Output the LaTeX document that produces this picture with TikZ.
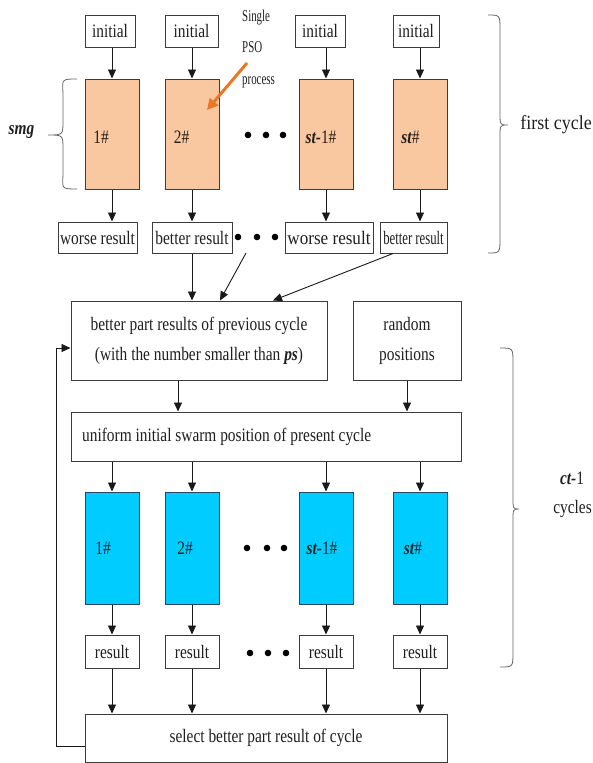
\documentclass[tikz,border=0pt]{standalone}
\usepackage{fontspec}
\setmainfont{Liberation Serif}[FakeStretch=0.81]
\newfontfamily\widefont{Liberation Serif}[FakeStretch=0.9]
\newfontfamily\slimfont{Liberation Serif}[FakeStretch=0.66]
\newfontfamily\tightfont{Liberation Serif}[FakeStretch=0.67]
\usetikzlibrary{arrows.meta}
\definecolor{linec}{RGB}{60,60,60}
\definecolor{peach}{RGB}{250,200,160}
\definecolor{sky}{RGB}{0,204,255}
\definecolor{skyline}{RGB}{40,70,95}
\definecolor{arrowor}{RGB}{236,118,40}
\definecolor{bracec}{RGB}{100,100,100}
\newcommand{\bi}[1]{\textbf{\textit{#1}}}
\begin{document}
\begin{tikzpicture}[x=1pt,y=-1pt,
  every node/.style={font=\fontsize{19}{30}\selectfont, text=black!88},
  box/.style={draw=linec, line width=1pt, fill=white, inner sep=0pt},
  orbox/.style={box, fill=peach, minimum width=54, minimum height=110},
  cybox/.style={box, draw=skyline, fill=sky, minimum width=54, minimum height=112},
  resbox/.style={box, minimum width=54, minimum height=33},
  flow/.style={draw=black!90, line width=0.9pt, -{Triangle[length=9pt,width=8pt]}},
  brace/.style={draw=bracec, line width=0.8pt},
  lbl/.style={inner sep=0pt}]
\useasboundingbox (0,0) rectangle (593,763);

% ---------- first cycle ----------
\node[box, minimum width=50, minimum height=32] (i1) at (110,31) {initial};
\node[box, minimum width=53, minimum height=32] (i2) at (191.5,31) {initial};
\node[box, minimum width=50, minimum height=32] (i3) at (320,31) {initial};
\node[box, minimum width=46, minimum height=32] (i4) at (416,31) {initial};

\node[orbox] (o1) at (112,134) {};
\node[orbox] (o2) at (192,134) {};
\node[orbox] (o3) at (326,134) {};
\node[orbox] (o4) at (420,134) {};
\node[lbl] (o1t) at (101,137) {1\#};
\node[lbl] (o2t) at (181.5,137) {2\#};
\node[lbl] (o3t) at (321,137) {\bi{st-}1\#};
\node[lbl] (o4t) at (410.5,137) {\bi{st}\#};

\node[box, minimum width=79, minimum height=31] (r1) at (97.5,237.5) {worse result};
\node[box, minimum width=80, minimum height=31] (r2) at (192,237.5) {better result};
\node[box, minimum width=88, minimum height=31] (r3) at (329,237.5) {\widefont worse result};
\node[box, minimum width=67, minimum height=31] (r4) at (413.5,237.5) {\tightfont better result};

\foreach \n in {1,2,3,4} {
  \draw[flow] (i\n.south -| o\n.north) -- (o\n.north);
  \draw[flow] (o\n.south) -- (o\n.south |- r\n.north);
}
\foreach \x in {248,266,283} \fill[black] (\x,135) circle (3.3pt);
\foreach \x in {238,257,275} \fill[black] (\x,237) circle (3.3pt);

% single PSO process note
\node[lbl, anchor=west, align=left, font=\slimfont\fontsize{16.5}{31.5}\selectfont] (spp) at (242,49) {Single\\PSO\\process};
\coordinate (pso) at (247,63);
\draw[line width=3pt, arrowor, -{Triangle[length=11pt,width=11pt]}] (pso) -- ([xshift=15pt,yshift=24pt]o2.center);

% side braces
\draw[brace] (77,79) .. controls (62,79) .. (63,93) -- (63,121) .. controls (63,135) .. (48,135) .. controls (63,135) .. (63,149) -- (63,175) .. controls (62,189) .. (77,189);
\node[lbl] (smg) at (21.5,132) {\bi{smg}};

\draw[brace] (488,15) .. controls (500,15) .. (500,30) -- (500,113) .. controls (500,125) .. (508,125) .. controls (500,125) .. (500,137) -- (500,238) .. controls (500,253) .. (488,253);
\node[lbl] (fc) at (556,125) {\widefont\fontsize{20}{24}\selectfont first cycle};

% ---------- later cycles ----------
\node[box, minimum width=256, minimum height=79, align=center] (bp) at (199,340.5)
  {better part results of previous cycle\\(with the number smaller than \bi{ps})};
\node[box, minimum width=108, minimum height=79, align=center] (rp) at (407,340.5) {random\\positions};

\coordinate (dj) at (246,253);
\coordinate (r4f) at ([xshift=-20.5pt]r4.south);
\draw[flow] (r2.south) -- (r2.south |- bp.north);
\draw[flow] (dj) -- ([xshift=21pt]bp.north);
\draw[flow] (r4f) -- ([xshift=74pt]bp.north);

\node[box, minimum width=390, minimum height=49] (un) at (266,436.5) {};
\node[lbl, anchor=west] (unt) at (82,437) {uniform initial swarm position of present cycle};
\draw[flow] ([xshift=-21pt]bp.south) -- ([xshift=-21pt]bp.south |- un.north);
\draw[flow] (rp.south) -- (rp.south |- un.north);

\node[cybox] (b1) at (112,548) {};
\node[cybox] (b2) at (192,548) {};
\node[cybox] (b3) at (326,548) {};
\node[cybox] (b4) at (420,548) {};
\node[lbl] (b1t) at (103,548) {1\#};
\node[lbl] (b2t) at (185,548) {2\#};
\node[lbl] (b3t) at (322,548) {\bi{st-}1\#};
\node[lbl] (b4t) at (413,548) {\bi{st}\#};

\node[resbox] (s1) at (112,651.5) {result};
\node[resbox] (s2) at (192,651.5) {result};
\node[resbox] (s3) at (326,651.5) {result};
\node[resbox] (s4) at (420,651.5) {result};

\node[box, minimum width=362, minimum height=48] (sel) at (266,738) {select better part result of cycle};

\foreach \n in {1,2,3,4} {
  \draw[flow] (un.south -| b\n.north) -- (b\n.north);
  \draw[flow] (b\n.south) -- (s\n.north);
  \draw[flow] (s\n.south) -- (s\n.south |- sel.north);
}
\foreach \x in {247,267,284} \fill[black] (\x,548) circle (3.3pt);
\foreach \x in {250,268,286} \fill[black] (\x,653) circle (3.3pt);

% feedback loop
\draw[flow] ([yshift=-8pt]sel.west) -- ++(-28,0) |- ([yshift=-7.5pt]bp.west);

\draw[brace] (500,348) .. controls (513,348) .. (513,363) -- (513,497) .. controls (513,509) .. (519,509) .. controls (513,509) .. (513,521) -- (513,652) .. controls (513,667) .. (500,667);
\node[lbl] (ct) at (572,478) {\bi{ct-}1};
\node[lbl, anchor=east] (cyc) at (592,509) {cycles};
\end{tikzpicture}
\end{document}
